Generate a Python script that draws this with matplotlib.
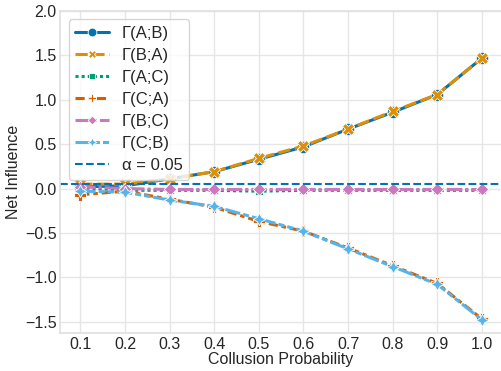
import numpy as np
import matplotlib
matplotlib.use("Agg")
import matplotlib.pyplot as plt
import seaborn as sns

# data
prob = [0.1, 0.2, 0.3, 0.4, 0.5, 0.6, 0.7, 0.8, 0.9, 1.0]
g_ab = [0.02, 0.03, 0.11, 0.19, 0.33, 0.47, 0.67, 0.86, 1.06, 1.47]
g_ba = [0.05, 0.05, 0.11, 0.19, 0.34, 0.48, 0.67, 0.87, 1.06, 1.47]
g_ac = [0.01, -0.02, -0.02, -0.02, -0.03, -0.02, -0.02, -0.02, -0.02, -0.02]
g_ca = [-0.07, -0.03, -0.12, -0.21, -0.37, -0.48, -0.67, -0.87, -1.07, -1.47]
g_bc = [0.02, 0.0, -0.01, -0.01, -0.01, -0.01, -0.01, -0.01, -0.01, -0.01]
g_cb = [-0.03, -0.04, -0.13, -0.20, -0.34, -0.48, -0.68, -0.88, -1.08, -1.48]
alpha = 0.05

sns.set_theme(style="whitegrid", palette="colorblind")
plt.rcParams['font.family'] = ['Liberation Sans', 'DejaVu Sans']
plt.rcParams['grid.color'] = '#e6e6e6'
plt.rcParams['axes.edgecolor'] = '#e0e0e0'
pal = sns.color_palette("colorblind")

series = [
    ("Γ(A;B)", g_ab, pal[0], "o", ""),
    ("Γ(B;A)", g_ba, pal[1], "X", (4, 1.5)),
    ("Γ(A;C)", g_ac, pal[2], (4, 0, 45), (1, 1)),
    ("Γ(C;A)", g_ca, pal[3], "P", (3, 1.25, 1.5, 1.25)),
    ("Γ(B;C)", g_bc, pal[4], (4, 0, 0), (5, 1, 1, 1)),
    ("Γ(C;B)", g_cb, pal[9], (4, 1, 0), (5, 1, 2, 1, 2, 1)),
]

fig, ax = plt.subplots(figsize=(5.02, 3.71), dpi=100)
for label, vals, col, mk, dash in series:
    line, = ax.plot(prob, vals, color=col, marker=mk, markersize=9,
                    linewidth=2.2, label=label,
                    markeredgecolor="white", markeredgewidth=0.6)
    if dash:
        line.set_dashes(dash)

ax.axhline(alpha, color=pal[0], linestyle="--", linewidth=1.5, label="α = 0.05")

ax.set_xticks(prob)
ax.set_xticklabels([f"{p:.1f}" for p in prob])
ax.set_ylim(-1.63, 2.0)
ax.set_yticks([-1.5, -1.0, -0.5, 0.0, 0.5, 1.0, 1.5, 2.0])
ax.tick_params(labelsize=11.5, pad=2.5, length=0)
ax.set_xlabel("Collusion Probability", fontsize=11.5, labelpad=0)
ax.set_ylabel("Net Influence", fontsize=11.5, labelpad=3)
ax.legend(loc="upper left", fontsize=12, markerscale=0.7, labelspacing=0.42)

fig.subplots_adjust(left=0.12, right=1.0, bottom=0.102, top=0.97)
fig.savefig("out.png", dpi=100)
